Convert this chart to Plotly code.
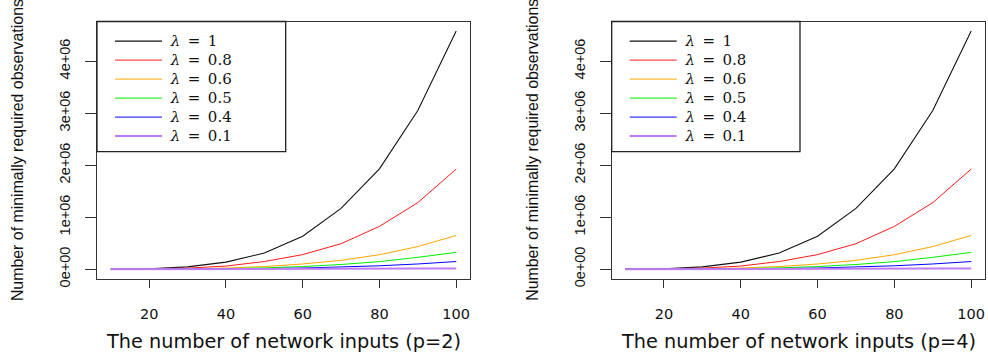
import plotly.graph_objects as go

# ---- data ----
p_inputs = [10, 20, 30, 40, 50, 60, 70, 80, 90, 100]
lambda_labels = ["1", "0.8", "0.6", "0.5", "0.4", "0.1"]
obs_lambda_1 = [500, 9000, 45000, 135000, 310000, 635000, 1168000, 1930000, 3050000, 4580000]
obs_lambda_08 = [200, 4000, 20000, 60000, 147000, 280000, 490000, 823000, 1280000, 1925000]
obs_lambda_06 = [80, 1500, 8000, 22000, 50000, 100000, 170000, 278000, 435000, 648000]
obs_lambda_05 = [40, 700, 4000, 11000, 25000, 50000, 90000, 145000, 228000, 323000]
obs_lambda_04 = [20, 300, 1500, 5000, 11000, 22000, 40000, 65000, 100000, 147000]
obs_lambda_01 = [5, 100, 400, 1000, 2000, 4000, 6000, 9000, 12000, 15000]
series = [obs_lambda_1, obs_lambda_08, obs_lambda_06, obs_lambda_05, obs_lambda_04, obs_lambda_01]
y_tick_vals = [0, 1000000, 2000000, 3000000, 4000000]
y_tick_text = ["0e+00", "1e+06", "2e+06", "3e+06", "4e+06"]
x_tick_vals = [20, 40, 60, 80, 100]
panel_titles = ["The number of network inputs (p=2)", "The number of network inputs (p=4)"]
y_title = "Number of minimally required observations"

# ---- styles ----
colors = ["#111111", "#FF1A1A", "#FFA500", "#00EE00", "#0000FF", "#C07CF5"]
widths = [1.1, 1, 1, 1, 1, 2]

W, H = 988, 362
left_px = [(97, 470), (611.7, 985)]
top_px, bot_px = 22, 285

fig = go.Figure()
for k in range(2):
    xa = "x" if k == 0 else "x2"
    ya = "y" if k == 0 else "y2"
    lg = "legend" if k == 0 else "legend2"
    for lab, vals, c, w in zip(lambda_labels, series, colors, widths):
        fig.add_trace(go.Scatter(
            x=p_inputs, y=vals, mode="lines",
            line=dict(color=c, width=w),
            name='<span style="font-size:15px">\u2005<i>λ</i>\u2002=\u2002' + lab + "</span>",
            xaxis=xa, yaxis=ya, legend=lg,
        ))

axis_common = dict(showline=True, mirror=True, linecolor="#333", linewidth=1.3,
                   ticks="outside", tickcolor="#333", tickwidth=1.3,
                   showgrid=False, zeroline=False)
ydom = [1 - bot_px / H, 1 - top_px / H]
layout = dict(width=W, height=H, margin=dict(l=0, r=0, t=0, b=0),
              paper_bgcolor="white", plot_bgcolor="white", showlegend=True)
for k in range(2):
    sfx = "" if k == 0 else str(k + 1)
    x0, x1 = left_px[k]
    layout["xaxis" + sfx] = dict(axis_common, domain=[x0 / W, x1 / W], range=[6.4, 103.6],
                                 tickvals=x_tick_vals, ticklen=8, ticklabelstandoff=14,
                                 tickfont=dict(family="DejaVu Sans", size=14.5, color="#111"),
                                 anchor="y" + sfx)
    layout["yaxis" + sfx] = dict(axis_common, domain=ydom, range=[-183200, 4763200],
                                 tickvals=y_tick_vals, ticktext=y_tick_text, tickangle=-90,
                                 ticklen=11, ticklabelstandoff=9,
                                 tickfont=dict(family="Liberation Sans", size=14.5, color="#111"),
                                 anchor="x" + sfx)
    layout["legend" + sfx] = dict(x=(x0 + 13) / W, y=1 - 27.2 / H, xanchor="left", yanchor="top",
                                  bgcolor="rgba(0,0,0,0)", borderwidth=0, itemwidth=47,
                                  font=dict(family="DejaVu Serif", size=12.3, color="#111"))
fig.update_layout(**layout)

shapes = []
annotations = []
legend_right_px = [285.7, 800]
for k in range(2):
    x0, x1 = left_px[k]
    shapes.append(dict(type="rect", xref="paper", yref="paper",
                       x0=x0 / W, x1=legend_right_px[k] / W,
                       y0=1 - 155 / H, y1=1 - top_px / H,
                       line=dict(color="#222", width=1.3), fillcolor="rgba(0,0,0,0)", layer="above"))
    annotations.append(dict(text=panel_titles[k], xref="paper", yref="paper",
                            x=(x0 + x1) / 2 / W, y=1 - 349 / H, showarrow=False,
                            xanchor="center", yanchor="middle",
                            font=dict(family="DejaVu Sans", size=19.3, color="#111")))
    annotations.append(dict(text=y_title, xref="paper", yref="paper",
                            x=(x0 - 80) / W, y=1 - 153.5 / H, showarrow=False, textangle=-90,
                            xanchor="center", yanchor="middle",
                            font=dict(family="Liberation Sans", size=15.9, color="#111")))
fig.update_layout(shapes=shapes, annotations=annotations)

fig.write_html("out.html", config={"displayModeBar": False},
               post_script="document.body.style.margin='0';document.body.style.overflow='hidden';")
